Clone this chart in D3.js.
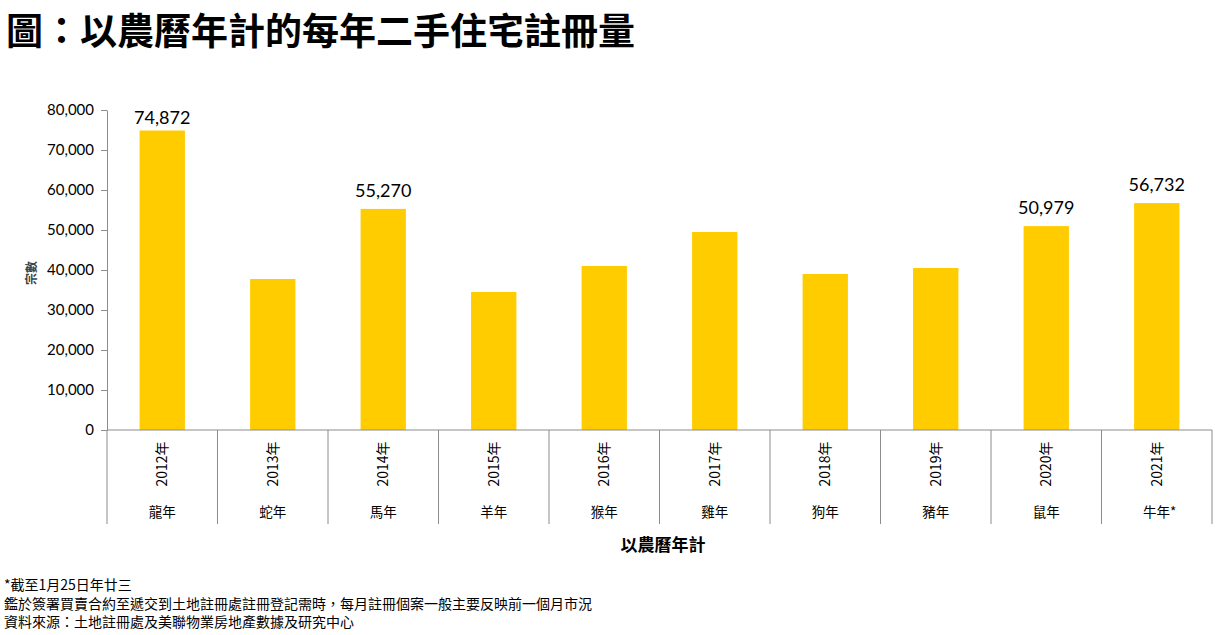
<!DOCTYPE html>
<html><head><meta charset="utf-8">
<script src="https://cdn.jsdelivr.net/npm/d3@7"></script>
<style>
body{margin:0;background:#fff;}
svg{display:block;}
</style></head>
<body>
<script>
const years = ["2012年","2013年","2014年","2015年","2016年","2017年","2018年","2019年","2020年","2021年"];
const animals = ["龍年","蛇年","馬年","羊年","猴年","雞年","狗年","豬年","鼠年","牛年*"];
const values = [74872, 37750, 55270, 34500, 41000, 49500, 39000, 40500, 50979, 56732];
const labelled = [true,false,true,false,false,false,false,false,true,true];
const yTicks = [0,10000,20000,30000,40000,50000,60000,70000,80000];
const title = "圖：以農曆年計的每年二手住宅註冊量";
const xTitle = "以農曆年計";
const yTitle = "宗數";
const notes = ["*截至1月25日年廿三","鑑於簽署買賣合約至遞交到土地註冊處註冊登記需時，每月註冊個案一般主要反映前一個月市況","資料來源：土地註冊處及美聯物業房地產數據及研究中心"];

const W=1228,H=635;
const cjk = "'Noto Sans CJK TC','Noto Sans CJK SC',sans-serif";
const num = "Lato,'Noto Sans',sans-serif";
const svg=d3.select("body").append("svg").attr("width",W).attr("height",H);

const pL=107,pR=1212,pT=110,pB=430;
const x=d3.scaleBand().domain(years).range([pL,pR]).paddingInner(0.59).paddingOuter(0.295);
const y=d3.scaleLinear().domain([0,80000]).range([pB,pT]);
const axisColor="#8c8c8c";

svg.append("text").attr("x",6).attr("y",45).attr("font-family",cjk).attr("font-weight","bold")
  .attr("font-size",37).attr("fill","#000").text(title);

// y axis
const ya=svg.append("g").attr("transform",`translate(${pL},0)`)
  .call(d3.axisLeft(y).tickValues(yTicks).tickSize(6).tickSizeOuter(0).tickFormat(d3.format(",")));
ya.select(".domain").attr("stroke",axisColor);
ya.selectAll(".tick line").attr("stroke",axisColor);
ya.selectAll(".tick text").attr("font-family",num).attr("font-size",15).attr("fill","#000").attr("x",-13);

svg.append("text").attr("transform",`translate(36,273) rotate(-90)`).attr("text-anchor","middle")
  .attr("font-family",cjk).attr("font-size",12).attr("font-weight","bold").attr("fill","#404040").text(yTitle);

// bars
svg.selectAll("rect.bar").data(values).enter().append("rect").attr("class","bar")
  .attr("x",(d,i)=>x(years[i])).attr("width",x.bandwidth())
  .attr("y",d=>y(d)).attr("height",d=>y(0)-y(d)).attr("fill","#FFCC00");

svg.selectAll("text.val").data(values.map((v,i)=>({v,i})).filter(d=>labelled[d.i])).enter().append("text")
  .attr("class","val").attr("x",d=>x(years[d.i])+x.bandwidth()/2).attr("y",d=>Math.max(y(d.v)-12,124))
  .attr("text-anchor","middle").attr("font-family",num).attr("font-size",18).attr("fill","#000")
  .text(d=>d3.format(",")(d.v));

// x axis
const step=x.step();
svg.append("line").attr("x1",pL).attr("x2",pR).attr("y1",pB).attr("y2",pB).attr("stroke",axisColor);
const divs=d3.range(years.length+1).map(i=>pL+i*step);
svg.selectAll("line.div").data(divs).enter().append("line").attr("class","div")
  .attr("x1",d=>d).attr("x2",d=>d).attr("y1",pB).attr("y2",524).attr("stroke",axisColor);

svg.selectAll("text.yr").data(years).enter().append("text").attr("class","yr")
  .attr("transform",d=>`translate(${x(d)+x.bandwidth()/2+5},464) rotate(-90)`)
  .attr("text-anchor","middle").attr("font-family",cjk).attr("font-size",14).attr("fill","#000").text(d=>d);

svg.selectAll("text.an").data(animals).enter().append("text").attr("class","an")
  .attr("x",(d,i)=>x(years[i])+x.bandwidth()/2+(d.length>2?3:0)).attr("y",517)
  .attr("text-anchor","middle").attr("font-family",cjk).attr("font-size",13.5).attr("fill","#000").text(d=>d);

svg.append("text").attr("x",663).attr("y",551).attr("text-anchor","middle")
  .attr("font-family",cjk).attr("font-size",17).attr("font-weight","bold").attr("fill","#000").text(xTitle);

svg.selectAll("text.note").data(notes).enter().append("text").attr("class","note")
  .attr("x",4).attr("y",(d,i)=>590+i*18.5).attr("font-family",cjk).attr("font-size",14).attr("fill","#000").text(d=>d);
</script>
</body></html>
